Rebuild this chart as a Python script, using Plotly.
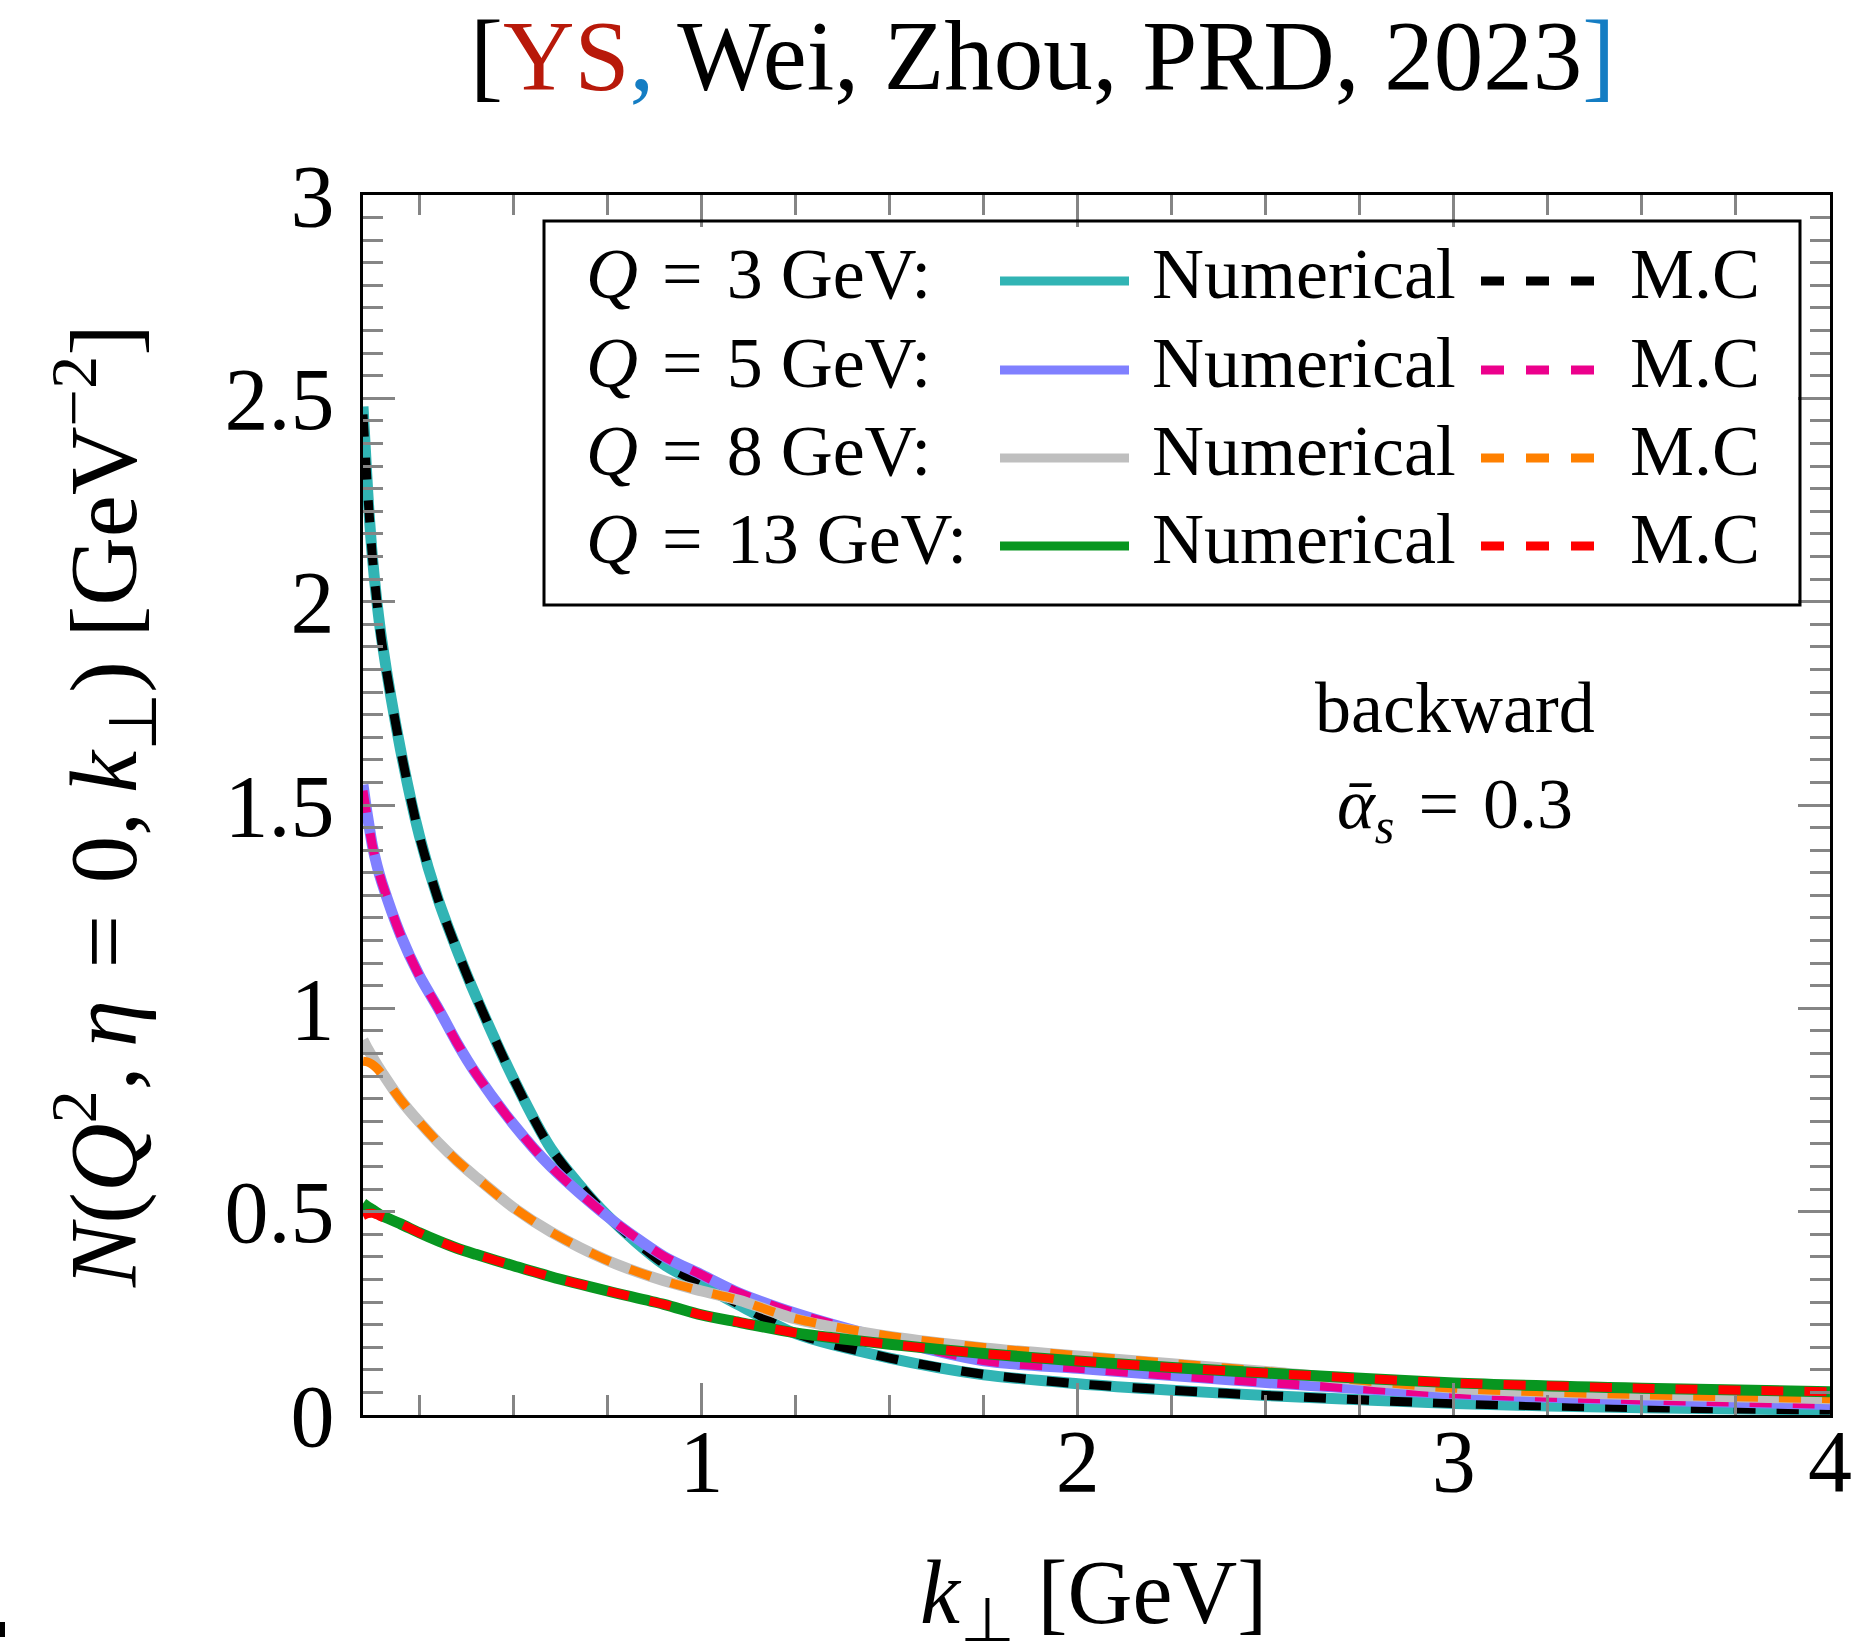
import plotly.graph_objects as go

# ---------------- data ----------------
k_perp = [0.1, 0.1125, 0.125, 0.1375, 0.15, 0.2, 0.25, 0.3, 0.35, 0.4, 0.5, 0.6, 0.75, 0.9,
          1.0, 1.1, 1.25, 1.5, 1.75, 2.0, 2.25, 2.5, 3.0, 3.5, 4.0]

num_Q3 = [2.48, 2.27, 2.11, 1.995, 1.905, 1.635, 1.424, 1.267, 1.143, 1.03, 0.827, 0.655, 0.49, 0.37,
          0.32, 0.27, 0.20, 0.14, 0.099, 0.077, 0.061, 0.048, 0.028, 0.018, 0.012]
mc_Q3 = [2.46, 2.27, 2.11, 1.995, 1.90, 1.635, 1.424, 1.267, 1.143, 1.03, 0.827, 0.655, 0.49, 0.372,
         0.322, 0.272, 0.201, 0.14, 0.10, 0.077, 0.061, 0.048, 0.028, 0.018, 0.012]

num_Q5 = [1.55, 1.47, 1.40, 1.35, 1.31, 1.18, 1.08, 1.00, 0.915, 0.84, 0.715, 0.61, 0.488, 0.39,
          0.345, 0.30, 0.25, 0.185, 0.133, 0.115, 0.097, 0.08, 0.052, 0.037, 0.026]
mc_Q5 = [1.535, 1.465, 1.40, 1.35, 1.31, 1.18, 1.08, 1.00, 0.915, 0.84, 0.715, 0.61, 0.488, 0.39,
         0.345, 0.30, 0.25, 0.186, 0.134, 0.115, 0.097, 0.08, 0.052, 0.037, 0.026]

num_Q8 = [0.922, 0.90, 0.88, 0.861, 0.843, 0.775, 0.72, 0.67, 0.625, 0.585, 0.51, 0.45, 0.38, 0.33,
          0.305, 0.282, 0.236, 0.193, 0.165, 0.145, 0.126, 0.107, 0.066, 0.05, 0.04]
mc_Q8 = [0.87, 0.868, 0.862, 0.852, 0.838, 0.775, 0.72, 0.67, 0.625, 0.585, 0.51, 0.45, 0.38, 0.33,
         0.305, 0.282, 0.237, 0.194, 0.166, 0.146, 0.127, 0.107, 0.066, 0.05, 0.04]

num_Q13 = [0.52, 0.512, 0.505, 0.497, 0.49, 0.47, 0.448, 0.428, 0.41, 0.395, 0.367, 0.34, 0.305, 0.272,
           0.246, 0.228, 0.202, 0.174, 0.151, 0.133, 0.117, 0.103, 0.079, 0.066, 0.057]
mc_Q13 = [0.49, 0.495, 0.496, 0.492, 0.487, 0.47, 0.448, 0.428, 0.41, 0.395, 0.367, 0.34, 0.305, 0.272,
          0.246, 0.228, 0.202, 0.174, 0.151, 0.133, 0.117, 0.103, 0.079, 0.066, 0.057]

Q_labels = ["3", "5", "8", "13"]
num_colors = ["#31b4b4", "#8080ff", "#bfbfbf", "#089620"]
mc_colors = ["#000000", "#ec008c", "#ff8000", "#ff0000"]
num_series = [num_Q3, num_Q5, num_Q8, num_Q13]
mc_series = [mc_Q3, mc_Q5, mc_Q8, mc_Q13]

x_ticks = [1, 2, 3, 4]
y_ticks = [0, 0.5, 1, 1.5, 2, 2.5, 3]

# ---------------- layout geometry (pixels) ----------------
W, H = 1859, 1641
L, R, T, B = 363, 1830, 195, 1415
FONT = "Liberation Serif"
DASH = "22px,21px"
SP = "\u2004"


def px(X):
    return (X - L) / (R - L)


def py(Y):
    return (B - Y) / (B - T)


fig = go.Figure()
for i in range(4):
    fig.add_trace(go.Scatter(x=k_perp, y=num_series[i], mode="lines",
                             line=dict(color=num_colors[i], width=11, shape="spline", smoothing=0.8),
                             showlegend=False))
    fig.add_trace(go.Scatter(x=k_perp, y=mc_series[i], mode="lines",
                             line=dict(color=mc_colors[i], width=9, dash=DASH, shape="spline", smoothing=0.8),
                             showlegend=False))

tick_col = "#858585"
fig.update_xaxes(range=[0.1, 4.0], tickvals=x_ticks, ticktext=[str(v) for v in x_ticks],
                 ticks="inside", ticklen=32, tickwidth=3, tickcolor=tick_col,
                 showline=True, linecolor="black", linewidth=3, mirror="ticks",
                 showgrid=False, zeroline=False, ticklabelstandoff=-33,
                 tickfont=dict(family=FONT, size=88, color="black"),
                 minor=dict(tick0=0, dtick=0.25, ticks="inside", ticklen=20, tickwidth=3,
                            tickcolor=tick_col, showgrid=False))
fig.update_yaxes(range=[0, 3.0], tickvals=y_ticks, ticktext=["0", "0.5", "1", "1.5", "2", "2.5", "3"],
                 ticks="inside", ticklen=32, tickwidth=3, tickcolor=tick_col,
                 showline=True, linecolor="black", linewidth=3, mirror="ticks",
                 showgrid=False, zeroline=False, ticklabelstandoff=8,
                 tickfont=dict(family=FONT, size=88, color="black"),
                 minor=dict(tick0=0, dtick=0.5 / 9, ticks="inside", ticklen=20, tickwidth=3,
                            tickcolor=tick_col, showgrid=False))

annotations = []
shapes = []

# title
annotations.append(dict(
    text="[<span style='color:#b8190a'>YS</span><span style='color:#147dc3'>,</span> Wei, Zhou, PRD, 2023<span style='color:#147dc3'>]</span>",
    x=px(1042), y=py(55), xref="paper", yref="paper", xanchor="center", yanchor="middle",
    showarrow=False, font=dict(family=FONT, size=99, color="black")))

# axis titles
annotations.append(dict(
    text="<i>k</i><sub>⊥</sub> [GeV]", x=px(1093), y=py(1600), xref="paper", yref="paper",
    xanchor="center", yanchor="middle", showarrow=False,
    font=dict(family=FONT, size=90, color="black")))
annotations.append(dict(
    text="<i>N</i>(<i>Q</i><sup>2</sup>,\u2009<i>η</i>" + SP + "=" + SP + "0,\u2009<i>k</i><sub>⊥</sub>) [GeV<sup>−2</sup>]",
    x=px(103), y=py(806), xref="paper", yref="paper", textangle=-90,
    xanchor="center", yanchor="middle", showarrow=False,
    font=dict(family=FONT, size=95, color="black")))

# text labels
annotations.append(dict(text="backward", x=px(1455), y=py(708), xref="paper", yref="paper",
                        xanchor="center", yanchor="middle", showarrow=False,
                        font=dict(family=FONT, size=72, color="black")))
annotations.append(dict(text="<i>ᾱ</i><sub><i>s</i></sub>" + SP + "=" + SP + "0.3", x=px(1455), y=py(809),
                        xref="paper", yref="paper", xanchor="center", yanchor="middle",
                        showarrow=False, font=dict(family=FONT, size=72, color="black")))

# legend box
shapes.append(dict(type="rect", xref="paper", yref="paper", x0=px(544), x1=px(1800),
                   y0=py(221), y1=py(605), line=dict(color="black", width=3),
                   fillcolor="rgba(0,0,0,0)", layer="above"))
row_base = [298, 387, 475, 563]
for i in range(4):
    yb = row_base[i]
    ymid = yb - 24
    yline = yb - 17
    annotations.append(dict(text="<i>Q</i>" + SP + "=" + SP + Q_labels[i] + " GeV:", x=px(584), y=py(ymid),
                            xref="paper", yref="paper", xanchor="left", yanchor="middle",
                            showarrow=False, font=dict(family=FONT, size=72, color="black")))
    annotations.append(dict(text="Numerical", x=px(1150), y=py(ymid), xref="paper", yref="paper",
                            xanchor="left", yanchor="middle", showarrow=False,
                            font=dict(family=FONT, size=72, color="black")))
    annotations.append(dict(text="M.C", x=px(1628), y=py(ymid), xref="paper", yref="paper",
                            xanchor="left", yanchor="middle", showarrow=False,
                            font=dict(family=FONT, size=72, color="black")))
    shapes.append(dict(type="line", xref="paper", yref="paper", x0=px(1000), x1=px(1129),
                       y0=py(yline), y1=py(yline), line=dict(color=num_colors[i], width=9)))
    shapes.append(dict(type="line", xref="paper", yref="paper", x0=px(1481), x1=px(1594),
                       y0=py(yline), y1=py(yline), line=dict(color=mc_colors[i], width=9, dash="23px,22px")))

# small stray mark at bottom-left of the original image
shapes.append(dict(type="rect", xref="paper", yref="paper", x0=px(0), x1=px(5),
                   y0=py(1637), y1=py(1622), line=dict(width=0), fillcolor="black"))

fig.update_layout(width=W, height=H, margin=dict(l=L, r=W - R, t=T, b=H - B, autoexpand=False),
                  paper_bgcolor="white", plot_bgcolor="white",
                  annotations=annotations, shapes=shapes, showlegend=False)

fig.write_html("out.html")
